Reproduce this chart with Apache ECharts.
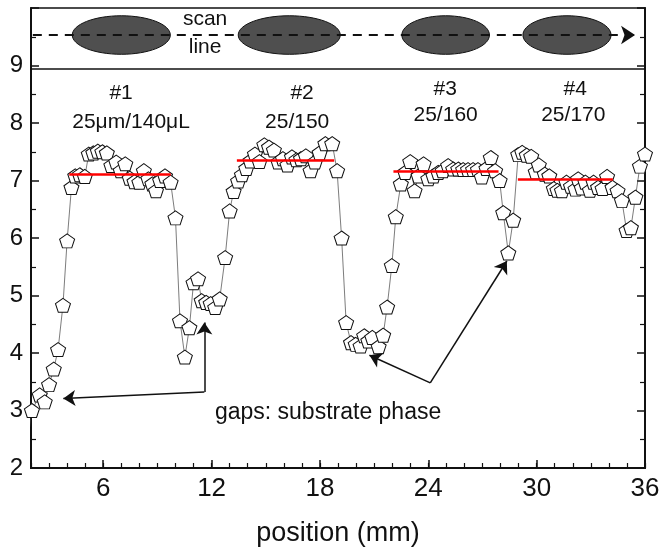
<!DOCTYPE html>
<html>
<head>
<meta charset="utf-8">
<title>scan line</title>
<script src="https://cdn.jsdelivr.net/npm/echarts@6/dist/echarts.min.js"></script>
<style>
  html, body { margin: 0; padding: 0; background: #fff; }
  #chart { width: 659px; height: 550px; }
</style>
</head>
<body>
<div id="chart"></div>
<script>
// measured points along the scan (mm, value)
const positions = [
  1.85, 2.05, 2.48, 2.76, 3.0, 3.26, 3.5, 3.77, 4.0, 4.24, 4.45, 4.7, 4.98,
  5.2, 5.45, 5.7, 5.95, 6.2, 6.45, 6.72, 6.97, 7.22, 7.47, 7.73, 8.0, 8.25,
  8.5, 8.72, 8.92, 9.15, 9.42, 9.73, 10.0, 10.25, 10.52, 10.77, 11.0, 11.25,
  11.45, 11.7, 11.95, 12.2, 12.45, 12.75, 13.0, 13.22, 13.47, 13.68, 13.92,
  14.15, 14.4, 14.65, 14.92, 15.18, 15.45, 15.7, 15.95, 16.2, 16.45, 16.7,
  16.95, 17.22, 17.48, 17.72, 17.98, 18.3, 18.68, 18.95, 19.2, 19.45, 19.72,
  19.98, 20.25, 20.45, 20.68, 20.9, 21.25, 21.5, 21.72, 21.98, 22.2, 22.48,
  22.72, 23.0, 23.24, 23.46, 23.74, 24.0, 24.28, 24.55, 24.8, 25.1, 25.38,
  25.66, 25.93, 26.2, 26.48, 26.75, 26.96, 27.22, 27.46, 27.7, 27.95, 28.15,
  28.43, 28.7, 28.98, 29.2, 29.45, 29.7, 29.95, 30.12, 30.45, 30.7, 30.95,
  31.15, 31.4, 31.65, 31.9, 32.15, 32.3, 32.5, 32.7, 32.95, 33.15, 33.4,
  33.65, 33.9, 34.2, 34.48, 34.72, 34.98, 35.22, 35.47, 35.72, 36.0
];
const values = [
  2.55, 3.0, 3.27, 3.15, 3.45, 3.72, 4.06, 4.83, 5.95, 6.88, 7.08, 7.1, 7.07,
  7.46, 7.48, 7.51, 7.5, 7.48, 7.26, 7.32, 7.17, 7.29, 7.04, 6.98, 6.97, 7.17,
  7.03, 6.94, 6.82, 7.0, 7.08, 6.97, 6.35, 4.56, 3.93, 4.44, 5.22, 5.29,
  4.91, 4.88, 4.86, 4.79, 4.94, 5.66, 6.47, 6.81, 6.99, 7.1, 7.21,
  7.34, 7.46, 7.33, 7.62, 7.58, 7.53, 7.32, 7.38, 7.27, 7.41, 7.36,
  7.38, 7.43, 7.17, 7.32, 7.48, 7.64, 7.64, 7.17, 6.0, 4.53, 4.18,
  4.15, 4.12, 4.3, 4.21, 4.27, 4.11, 4.31, 4.8, 5.52, 6.37, 6.94,
  7.14, 7.33, 6.82, 7.08, 7.29, 7.03, 7.08, 7.14, 7.17, 7.26, 7.2,
  7.2, 7.19, 7.19, 7.19, 7.19, 7.06, 7.21, 7.4, 7.17, 7.0, 6.44,
  5.74, 6.31, 7.45, 7.49, 7.44, 7.42, 7.15, 7.27, 7.11, 7.08, 6.86,
  6.83, 6.82, 6.97, 6.9, 6.85, 7.03, 6.87, 6.97, 6.83, 6.97, 6.88,
  6.86, 7.07, 6.88, 6.82, 6.65, 6.13, 6.18, 6.71, 7.25, 7.46
];

// red plateau levels
const fitStart = [4.12, 13.4, 22.07, 28.96];
const fitEnd = [9.74, 18.79, 27.89, 34.22];
const fitLevel = [7.11, 7.36, 7.16, 7.03];

// spots crossed by the scan line (top strip)
const spotX = [7.0, 16.3, 24.96, 31.68];
const spotW = [5.43, 5.65, 4.85, 4.88];
const spotY = 9.53;
const spotH = 0.67;
const scanLine = [[2.1, 9.53], [35.45, 9.53]];
const dividerY = 8.94;

// annotation arrows
const arrowFrom = [[11.6, 3.32], [11.6, 3.32], [24.11, 3.48], [24.11, 3.48]];
const arrowTo = [[3.79, 3.21], [11.6, 4.53], [20.74, 3.96], [28.35, 5.6]];

// text labels
const noteX = [6.99, 7.54, 17.01, 16.74, 24.94, 24.96, 32.14, 32.03, 11.64, 11.64, 18.45];
const noteY = [8.52, 8.01, 8.52, 8.01, 8.59, 8.13, 8.59, 8.13, 9.8, 9.32, 2.97];
const noteText = ["#1", "25\u03bcm/140\u03bcL", "#2", "25/150", "#3", "25/160", "#4", "25/170", "scan", "line", "gaps: substrate phase"];
const noteSize = [21, 21, 21, 21, 21, 21, 21, 21, 21, 21, 23];

const xTicks = [6, 12, 18, 24, 30, 36];

const FONT = "'Liberation Sans', Arial, sans-serif";
const INK = "#111";
const PENTAGON = "path://M0,-1 L0.951,-0.309 L0.588,0.809 L-0.588,0.809 L-0.951,-0.309 Z";

const chart = echarts.init(document.getElementById("chart"), null, { renderer: "canvas" });

const seriesData = positions.map((p, i) => [p, values[i]]);

chart.setOption({
  animation: false,
  textStyle: { fontFamily: FONT },
  grid: {
    left: 31, right: 14, top: 8, bottom: 82,
    outerBoundsMode: "none",
    containLabel: false,
    show: true, borderColor: INK, borderWidth: 1.5, backgroundColor: "transparent"
  },
  xAxis: [
    {
      // every 1 mm: short ticks, labels only at multiples of 6
      type: "value", min: 2, max: 36, interval: 1, position: "bottom",
      axisLine: { lineStyle: { color: INK, width: 2 } },
      axisTick: { show: true, inside: true, length: 5, lineStyle: { color: INK, width: 1.2 } },
      axisLabel: { customValues: xTicks, color: INK, fontSize: 26, margin: 8, fontFamily: FONT },
      splitLine: { show: false },
      name: "position (mm)",
      nameLocation: "middle",
      nameGap: 52,
      nameTextStyle: { color: INK, fontSize: 27, fontFamily: FONT }
    },
    {
      // long ticks at the labelled positions
      type: "value", min: 2, max: 36, position: "bottom", offset: 0,
      axisLine: { show: true, lineStyle: { color: INK, width: 2 } },
      axisTick: { show: true, inside: true, length: 8, customValues: xTicks, lineStyle: { color: INK, width: 1.5 } },
      axisLabel: { show: false },
      splitLine: { show: false }
    }
  ],
  yAxis: [
    {
      type: "value", min: 2, max: 10, interval: 1,
      axisLine: { show: true, lineStyle: { color: INK, width: 2 } },
      axisTick: { inside: true, length: 8, lineStyle: { color: INK, width: 1.5 } },
      minorTick: { show: true, splitNumber: 2, length: 5, lineStyle: { color: INK, width: 1.2 } },
      axisLabel: {
        color: INK, fontSize: 24, margin: 8, fontFamily: FONT,
        formatter: (v) => (v >= 10 ? "" : String(v))
      },
      splitLine: { show: false }
    },
    {
      type: "value", min: 2, max: 10, interval: 1, position: "right",
      axisLine: { show: true, lineStyle: { color: INK, width: 2 } },
      axisTick: { inside: true, length: 8, lineStyle: { color: INK, width: 1.5 } },
      minorTick: { show: true, splitNumber: 2, length: 5, lineStyle: { color: INK, width: 1.2 } },
      axisLabel: { show: false },
      splitLine: { show: false }
    }
  ],
  series: [
    {
      type: "custom",
      name: "spots",
      z: 2,
      data: spotX.map((x, i) => [x, spotY, spotW[i], spotH]),
      renderItem: (params, api) => {
        const c = api.coord([api.value(0), api.value(1)]);
        const s = api.size([api.value(2), api.value(3)]);
        return {
          type: "ellipse",
          shape: { cx: c[0], cy: c[1], rx: s[0] / 2, ry: s[1] / 2 },
          style: { fill: "#4f4f4f", stroke: INK, lineWidth: 1 }
        };
      }
    },
    {
      type: "lines",
      coordinateSystem: "cartesian2d",
      z: 3,
      symbol: ["none", "arrow"],
      symbolSize: [8, 14],
      lineStyle: { color: INK, width: 2, type: [9, 7], opacity: 1 },
      data: [{ coords: scanLine }]
    },
    {
      type: "lines",
      coordinateSystem: "cartesian2d",
      z: 3,
      symbol: "none",
      lineStyle: { color: INK, width: 1.5, opacity: 1 },
      data: [{ coords: [[2, dividerY], [36, dividerY]] }]
    },
    {
      type: "line",
      name: "scan",
      z: 4,
      data: seriesData,
      showSymbol: true,
      symbol: PENTAGON,
      symbolSize: [15, 14],
      itemStyle: { color: "#fff", borderColor: INK, borderWidth: 1 },
      lineStyle: { color: "#444", width: 0.7 },
      clip: true
    },
    {
      type: "lines",
      coordinateSystem: "cartesian2d",
      z: 5,
      symbol: "none",
      lineStyle: { color: "#ff0000", width: 2.5, opacity: 1 },
      data: fitLevel.map((lv, i) => ({ coords: [[fitStart[i], lv], [fitEnd[i], lv]] }))
    },
    {
      type: "lines",
      coordinateSystem: "cartesian2d",
      z: 5,
      symbol: ["none", "arrow"],
      symbolSize: [6, 12],
      lineStyle: { color: INK, width: 1.5, opacity: 1 },
      data: arrowFrom.map((a, i) => ({ coords: [a, arrowTo[i]] }))
    },
    {
      type: "custom",
      name: "notes",
      z: 6,
      data: noteX.map((x, i) => [x, noteY[i], i]),
      renderItem: (params, api) => {
        const i = api.value(2);
        const c = api.coord([api.value(0), api.value(1)]);
        return {
          type: "text",
          x: c[0],
          y: c[1],
          style: {
            text: noteText[i],
            fill: INK,
            font: noteSize[i] + "px " + FONT,
            align: "center",
            verticalAlign: "middle"
          }
        };
      }
    }
  ]
});
</script>
</body>
</html>
